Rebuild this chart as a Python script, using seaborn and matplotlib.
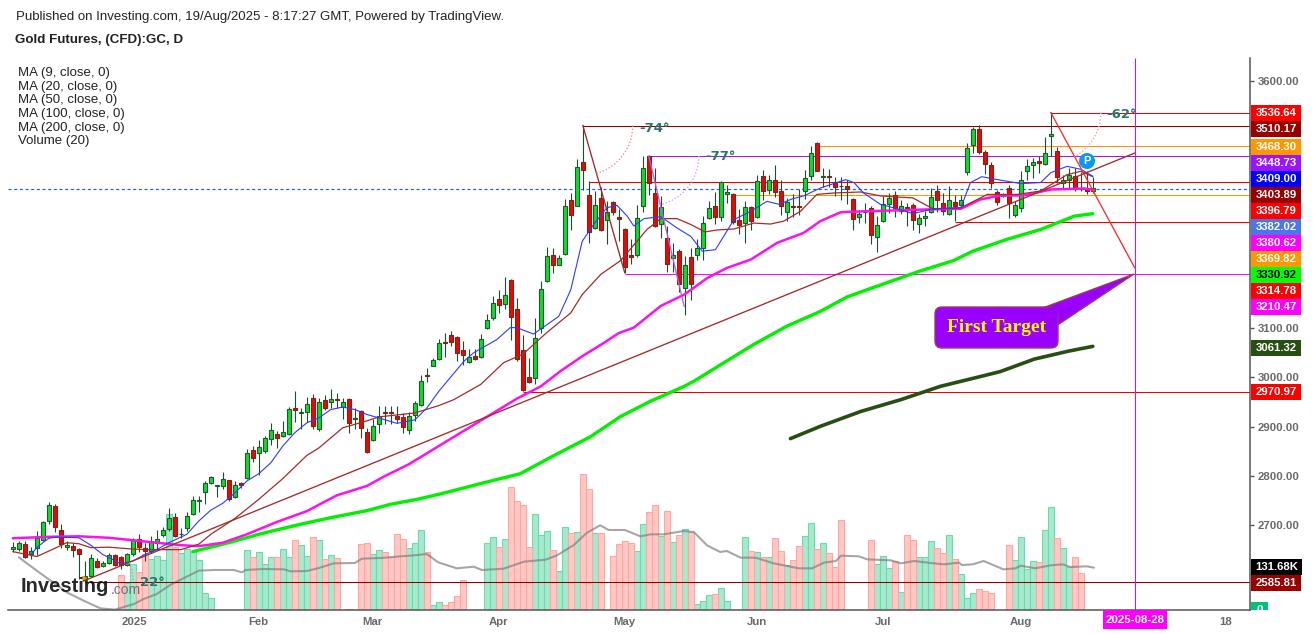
import numpy as np
import pandas as pd
import matplotlib
matplotlib.use("Agg")
import matplotlib.pyplot as plt
from matplotlib.patches import Arc, Circle, FancyBboxPatch, Polygon, Rectangle
import seaborn as sns

# daily candles
opens = [
    2653,2653,2662,2642,2655,2671,2710,2740,2691,2657,
    2658,2653,2589,2598,2628,2618,2624,2640,2636,2620,
    2643,2672,2655,2649,2665,2681,2693,2718,2682,2695,
    2724,2749,2768,2787,2780,2780,2792,2757,2786,2796,
    2853,2847,2851,2875,2886,2881,2885,2939,2928,2930,
    2959,2895,2955,2950,2957,2941,2957,2916,2932,2890,
    2874,2905,2930,2930,2921,2920,2894,2924,2945,3004,
    3024,3038,3071,3086,3082,3056,3031,3043,3042,3100,
    3121,3159,3149,3198,3139,3056,3000,2999,3100,3195,
    3249,3228,3250,3360,3347,3437,3370,3303,3364,3320,
    3356,3326,3301,3249,3248,3347,3449,3374,3311,3283,
    3243,3257,3181,3245,3249,3263,3324,3348,3326,3372,
    3372,3320,3313,3346,3326,3408,3380,3401,3378,3336,
    3348,3347,3378,3408,3476,3407,3409,3394,3389,3388,
    3362,3326,3335,3344,3284,3318,3351,3370,3338,3346,
    3350,3311,3324,3336,3378,3354,3331,3356,3349,3417,
    3472,3504,3457,3431,3376,3367,3384,3329,3344,3419,
    3430,3438,3432,3489,3460,3395,3400,3408,3384,3384,3378,
]
highs = [
    2666,2669,2669,2657,2689,2709,2747,2743,2703,2669,
    2664,2655,2627,2643,2635,2628,2645,2642,2639,2645,
    2675,2683,2665,2679,2690,2697,2736,2726,2694,2727,
    2760,2760,2790,2801,2783,2809,2793,2790,2788,2855,
    2861,2873,2882,2908,2891,2912,2941,2972,2939,2960,
    2966,2959,2964,2976,2968,2959,2959,2939,2935,2898,
    2915,2942,2943,2943,2942,2928,2930,2952,3004,3020,
    3040,3077,3091,3095,3085,3074,3057,3057,3088,3128,
    3165,3178,3204,3199,3161,3087,3040,3121,3195,3265,
    3263,3249,3361,3374,3443,3512,3398,3378,3386,3357,
    3357,3341,3303,3280,3349,3449,3450,3425,3368,3307,
    3273,3261,3246,3263,3280,3328,3357,3376,3398,3391,
    3373,3341,3357,3347,3411,3420,3411,3430,3401,3364,
    3371,3382,3420,3470,3478,3425,3422,3407,3407,3401,
    3364,3339,3354,3347,3328,3368,3373,3378,3359,3354,
    3354,3332,3337,3384,3390,3374,3389,3369,3370,3476,
    3508,3511,3462,3437,3381,3373,3391,3357,3418,3442,
    3445,3449,3487,3538,3468,3411,3425,3425,3416,3418,3407,
]
lows = [
    2646,2648,2635,2631,2640,2669,2703,2687,2654,2650,
    2637,2591,2588,2597,2614,2616,2622,2618,2611,2618,
    2638,2647,2628,2645,2651,2677,2689,2676,2674,2689,
    2722,2728,2743,2785,2758,2773,2749,2755,2776,2795,
    2828,2803,2846,2864,2857,2879,2884,2909,2895,2909,
    2895,2891,2935,2939,2939,2916,2888,2895,2878,2847,
    2871,2888,2905,2905,2908,2888,2885,2912,2943,2990,
    3023,3036,3042,3063,3033,3026,3030,3035,3040,3099,
    3116,3131,3139,3076,3034,2972,2989,2986,3090,3193,
    3211,3227,3249,3298,3347,3381,3273,3301,3297,3270,
    3330,3276,3212,3231,3245,3335,3369,3305,3282,3213,
    3213,3173,3126,3158,3239,3238,3322,3312,3317,3354,
    3312,3290,3273,3299,3323,3359,3371,3365,3330,3317,
    3326,3330,3362,3401,3418,3387,3387,3368,3359,3351,
    3299,3313,3313,3270,3254,3315,3334,3326,3332,3307,
    3299,3292,3307,3334,3335,3330,3330,3318,3342,3411,
    3455,3454,3413,3385,3349,3366,3324,3326,3335,3401,
    3405,3415,3431,3449,3395,3382,3385,3378,3378,3371,3373,
]
closes = [
    2657,2665,2637,2649,2675,2707,2742,2697,2662,2660,
    2651,2643,2597,2635,2616,2624,2641,2620,2619,2642,
    2670,2657,2649,2666,2673,2691,2716,2679,2683,2720,
    2752,2751,2787,2799,2782,2795,2754,2782,2782,2847,
    2837,2859,2877,2893,2877,2890,2937,2934,2930,2947,
    2901,2951,2939,2957,2954,2951,2908,2918,2897,2849,
    2902,2922,2928,2928,2916,2899,2922,2949,2993,3003,
    3036,3070,3070,3072,3050,3045,3042,3037,3078,3117,
    3151,3147,3168,3122,3037,2974,2990,3080,3180,3247,
    3228,3243,3348,3329,3427,3420,3295,3350,3299,3336,
    3335,3322,3224,3244,3324,3425,3395,3307,3346,3230,
    3249,3190,3228,3190,3263,3313,3344,3326,3397,3376,
    3316,3309,3346,3317,3398,3378,3401,3376,3348,3356,
    3345,3345,3404,3455,3419,3409,3407,3386,3388,3382,
    3322,3331,3336,3288,3309,3351,3363,3344,3347,3344,
    3319,3324,3327,3366,3359,3338,3360,3347,3360,3465,
    3504,3457,3433,3394,3355,3370,3353,3350,3401,3428,
    3437,3435,3455,3494,3406,3400,3411,3385,3382,3378,3385,
]
# volume in thousands, 0 where the picture has no bar
volumes = [
    0,0,0,0,0,0,0,0,0,0,
    0,0,0,0,0,0,0,0,105,81,
    138,115,168,153,161,150,288,188,171,183,
    173,150,51,36,0,0,0,0,0,180,
    159,174,138,159,159,183,159,210,195,162,
    219,210,153,165,156,0,3,0,198,201,
    168,180,174,159,228,213,186,201,240,175,
    16,24,16,24,42,90,0,0,0,200,
    218,188,212,368,326,314,188,287,224,236,
    179,116,248,230,233,407,362,230,230,0,
    161,197,206,200,176,257,293,314,221,296,
    203,224,242,235,17,26,44,47,65,26,
    0,0,218,176,173,158,158,215,176,134,
    149,191,221,260,182,200,170,128,269,0,
    0,0,0,209,137,161,125,146,53,224,
    209,158,158,206,185,170,224,152,107,35,
    50,62,56,50,0,0,194,149,218,122,
    146,143,239,308,215,185,128,158,110,0,0,
]

# moving averages, read at points along each line
ma9_x = [3,4,5,6,7,9,11,13,15,16,18,20,22,24,26,29,31,33,35,37,39,41,43,45,47,49,51,53,55,57,59,61,64,67,69,71,
         75.2,76.8,80.7,82.9,84,86.8,91,93,94.9,96.8,99,100.7,102.4,103.5,105.2,108,110.7,113,114.9,117.1,
         120.2,123,125.7,127.7,129.9,131.8,134.6,136.8,138.8,140.2,141.8,144.6,147.4,150,153.5,158,159.6,161.5,
         164.6,168,171.3,173,175.7,178,180]
ma9_y = [2641,2655,2665,2674,2676,2676,2675,2660,2641,2635,2622,2628,2641,2651,2665,2682,2709,2731,2745,2766,2790,
         2805,2827,2861,2888,2908,2918,2935,2940,2935,2925,2918,2907,2914,2938,2972,
         3033,3050,3077,3101,3101,3088,3124,3178,3276,3310,3344,3349,3327,3307,3322,3326,3303,3286,3256,3259,
         3320,3337,3357,3351,3362,3368,3384,3393,3401,3395,3374,3351,3342,3332,3342,3344,3395,3407,
         3400,3393,3395,3415,3428,3422,3408]
ma20_x = [0,4,6,9,11,13,16,19,22,28,31,33,37,41,45,49,51,55,59,61,67,71,73.5,78,81.8,85,88.9,93,94.9,98,101.3,
          105.7,108,110.7,113,115.4,117.3,120.2,123.5,126.3,128.5,131.3,134,136.8,141.3,144.6,150,153.5,158,
          162.4,167.4,171.3,175.7,178,180]
ma20_y = [2647,2637,2648,2665,2663,2655,2656,2653,2651,2651,2662,2682,2714,2753,2795,2842,2857,2898,2912,2920,
          2928,2943,2955,2986,3030,3047,3090,3131,3168,3209,3237,
          3300,3322,3322,3310,3295,3299,3301,3313,3311,3317,3337,3371,3374,3376,3368,3364,3341,3344,
          3371,3371,3378,3411,3418,3407]
ma50_x = [0,6,11,16,20,24,28,31,35,39,44,49,54,59,62,66,71,84,88,91.3,94.9,98.5,101,103.5,108,111.9,115.8,119,
          123,127.4,131.8,134.6,138,142.4,148,153.5,158,161.3,164.6,168.5,173,178.5,180]
ma50_y = [2674,2677,2678,2675,2670,2665,2660,2658,2665,2682,2707,2729,2761,2780,2800,2824,2861,2957,2982,3013,
          3043,3070,3090,3101,3145,3168,3202,3222,3239,3273,3293,3317,3335,3337,3339,3341,3342,3361,3369,3369,
          3381,3383,3381]
ma100_x = [30,36,41,44,48.5,53.5,59,63,67.4,71.3,78,84.6,89.6,96.3,101.3,106.3,111.9,113.6,118,123.5,129,134.6,
           139,142.4,151,156.8,160,165.7,171.3,176.9,180]
ma100_y = [2647,2665,2682,2691,2704,2717,2730,2743,2753,2764,2785,2805,2838,2880,2921,2952,2982,2993,3026,3067,
           3104,3134,3163,3178,3215,3237,3256,3280,3300,3327,3332]
ma200_x = [129.6,134.6,141.3,148,154.6,161.3,164.6,170.2,175.8,180]
ma200_y = [2876,2901,2931,2955,2982,3002,3012,3037,3053,3063]
vol_ma_x = [1,4,6.3,9,11.8,14.6,17,20.2,21.8,24,26.3,28.2,31,33.5,36.8,38.2,38.8,41.8,45.2,46.3,49,51,53.5,57,58.2,
            61.3,64.6,66.3,69,70.9,74,76.8,78.2,81.8,85.2,88.8,90.7,93.5,95.7,97.9,99.3,102,104.6,106.3,108.5,111.8,
            113.5,115.7,117.9,119,121.3,123.8,126.8,131,133.2,135.2,137.2,138,141,142.4,146.3,148,150.2,153,155.2,
            157.7,158.2,160,161.8,165.1,167.1,168,170.4,173,175,176.3,179,180.2]
vol_ma_y = [158,118,88,53,28,5,1,18,33,48,76,93,118,120,120,113,120,123,122,116,117,126,140,141,154,
            156,161,163,168,143,125,130,120,124,145,151,164,195,232,254,240,240,221,227,227,237,
            234,194,174,177,157,157,140,125,125,142,147,163,161,152,149,140,147,141,137,
            142,135,137,147,122,125,133,125,134,137,129,131,127]

# levels and sloped lines drawn on the chart
level_prices = [3536.64,3510.17,3468.30,3448.73,3396.79,3369.82,3314.78,3210.47,2970.97,2585.81]
level_starts = [173,95,134,106,96,120,157,102,85,12]
level_colors = ['#f00000','#8b0000','#ff9800','#9c1fd6','#f00000','#ff9800','#f00000','#f010f0','#f00000','#8b0000']
last_price = 3383
target_day = 187
slope_x = [[95,102],[106,111.9],[173,187],[11.7,187]]
slope_y = [[3511,3212],[3449,3144],[3537,3222],[2587,3455]]
slope_colors = ['#9c2a2a','#b060e0','#f03030','#a52a2a']
arc_x = [95,106,173,11.7]
arc_y = [3511,3449,3537,2587]
arc_deg = [-74,-77,-62,22]
arc_colors = ['#f09090','#d8a0ff','#ffa0a0','#d09a9a']

# right hand price tags
tag_texts = ['3536.64','3510.17','3468.30','3448.73','3409.00','3403.89','3396.79','3382.02','3380.62','3369.82',
             '3330.92','3314.78','3210.47','3061.32','2970.97','2585.81']
tag_y = [113,129,147,163,179,195,211,227,243,259,275,291,307,348,392,583]
tag_fill = ['#ff0000','#990000','#ff9800','#9c14ff','#0000ff','#990000','#ff0000','#4a78e8','#ff00ff','#ff9800',
            '#00ff00','#ff0000','#ff00ff','#274e13','#ff0000','#990000']
legend_lines = ['MA (9, close, 0)','MA (20, close, 0)','MA (50, close, 0)','MA (100, close, 0)','MA (200, close, 0)','Volume (20)']
legend_y = [73,87,100,114,128,141]

date_ticks = [20.2,41,60,81,102,124,145,168,202.2]
date_labels = ['2025','Feb','Mar','Apr','May','Jun','Jul','Aug','18']
price_ticks = [3600,3500,3400,3300,3200,3100,3000,2900,2800,2700,2600]
price_labels = ['3600.00','','','','','3100.00','3000.00','2900.00','2800.00','2700.00','']

sns.set_style("white")
plt.rcParams['font.family'] = ['Liberation Sans', 'DejaVu Sans']

W, H = 1316, 634
fig = plt.figure(figsize=(W / 100, H / 100), dpi=100)
ax = fig.add_axes([8 / W, 24 / H, 1242 / W, 552 / H])
ax_vol = ax.twinx()
ax.set_zorder(ax_vol.get_zorder() + 1)
ax.patch.set_visible(False)

# volume bars behind everything
days = np.arange(len(closes))
o = np.array(opens)
c = np.array(closes)
up = c >= o
vol_df = pd.DataFrame({'day': days, 'vol': volumes, 'side': np.where(up, 'up', 'down')})
vol_df = vol_df[vol_df['vol'] > 0]
sns.barplot(data=vol_df, x='day', y='vol', hue='side', hue_order=['up', 'down'],
            palette={'up': '#a6e9cd', 'down': '#ffc8c5'}, native_scale=True, dodge=False,
            width=1.0, saturation=1, errorbar=None, legend=False, ax=ax_vol)
for cont, edge in zip(ax_vol.containers, ['#6fd9ae', '#ffa6a0']):
    for b in cont:
        b.set_edgecolor(edge)
        b.set_linewidth(0.8)
sns.lineplot(x=vol_ma_x, y=vol_ma_y, color='#808080', alpha=0.7, linewidth=1.5, errorbar=None, ax=ax_vol)
ax_vol.set_ylim(0, 1656)
ax_vol.yaxis.set_visible(False)
ax_vol.set_xlabel('')
for s in ax_vol.spines.values():
    s.set_visible(False)

# levels
for price, start, col in zip(level_prices, level_starts, level_colors):
    ax.hlines(price, start, 206.2, color=col, linewidth=0.75, zorder=2)
ax.hlines(last_price, -0.8, 206.2, color='#1e5cff', linewidth=0.85, linestyles=(0, (2.6, 2.2)), zorder=2)
ax.vlines(target_day, 2528.6, 3647.6, color='#e010d0', linewidth=0.75, zorder=2)

# candles
wick_col = '#1c4d2e'
ax.vlines(days, lows, highs, color=wick_col, linewidth=0.8, zorder=3)
ax.bar(days[up], (c - o)[up], bottom=o[up], width=0.66, color='#10dc28', edgecolor='#1c5a2e', linewidth=0.8, zorder=3.1)
ax.bar(days[~up], (c - o)[~up], bottom=o[~up], width=0.66, color='#ee0606', edgecolor='#6e2a1a', linewidth=0.8, zorder=3.1)

# moving averages
sns.lineplot(x=ma200_x, y=ma200_y, color='#274e13', linewidth=2.6, errorbar=None, ax=ax, zorder=4)
sns.lineplot(x=ma100_x, y=ma100_y, color='#00f000', linewidth=2.4, errorbar=None, ax=ax, zorder=4)
sns.lineplot(x=ma50_x, y=ma50_y, color='#ff10ee', linewidth=1.8, errorbar=None, ax=ax, zorder=4)
sns.lineplot(x=ma20_x, y=ma20_y, color='#a52a2a', linewidth=0.9, errorbar=None, ax=ax, zorder=4)
sns.lineplot(x=ma9_x, y=ma9_y, color='#2a3cff', linewidth=0.8, errorbar=None, ax=ax, zorder=4)

# sloped lines
for xs, ys, col in zip(slope_x, slope_y, slope_colors):
    ax.plot(xs, ys, color=col, linewidth=0.95, zorder=4.5)

ax.set_xlim(-0.8, 206.2)
ax.set_ylim(2528.6, 3647.6)
ax.set_xticks(date_ticks)
ax.set_xticklabels(date_labels)
ax.set_yticks(price_ticks)
ax.set_yticklabels(price_labels)
ax.yaxis.tick_right()
ax.tick_params(axis='both', length=3, width=1, color='#555555', labelcolor='#6a6a6a', labelsize=8.2)
ax.tick_params(axis='y', pad=2.5)
ax.tick_params(axis='x', pad=2)
ax.set_xlabel('')
ax.set_ylabel('')
for lab in ax.get_xticklabels() + ax.get_yticklabels():
    lab.set_fontweight('bold')
for name in ['top', 'left']:
    ax.spines[name].set_visible(False)
for name in ['bottom', 'right']:
    ax.spines[name].set_color('#555555')
    ax.spines[name].set_linewidth(1.1)

# everything that sits on top of the chart, in pixels of the picture
ov = fig.add_axes([0, 0, 1, 1], zorder=10)
ov.set_xlim(0, W)
ov.set_ylim(H, 0)
ov.axis('off')
ov.patch.set_visible(False)

# dotted angle arcs, round in pixels so they go on the overlay
for ax0, ay0, deg, col in zip(arc_x, arc_y, arc_deg, arc_colors):
    dx, dy = ax.transData.transform((ax0, ay0))
    ov.add_patch(Arc((dx, H - dy), 100, 100, theta1=min(-deg, 0), theta2=max(-deg, 0),
                     color=col, linewidth=1.0, linestyle=(0, (1, 1.4))))

ov.text(16, 17, 'Published on Investing.com, 19/Aug/2025 - 8:17:27 GMT, Powered by TradingView.',
        fontsize=9.55, color='#222222', va='center')
ov.text(15, 40, 'Gold Futures, (CFD):GC, D', fontsize=9.6, fontweight='bold', color='#222222', va='center')
for line, y in zip(legend_lines, legend_y):
    ov.text(18, y, line, fontsize=9.5, color='#222222', va='center')

for text, y, fill in zip(tag_texts, tag_y, tag_fill):
    ov.add_patch(Rectangle((1251, y - 8), 50, 16, facecolor=fill, edgecolor='none'))
    ov.text(1276.5, y, text, fontsize=8.2, fontweight='bold', ha='center', va='center',
            color='black' if text == '3330.92' else 'white')
ov.add_patch(Rectangle((1251, 559), 51, 16, facecolor='black', edgecolor='none'))
ov.text(1276.5, 567, '131.68K', fontsize=8.2, fontweight='bold', color='white', ha='center', va='center')
zero_tag = Rectangle((1251, 602), 17, 8, facecolor='#00c176', edgecolor='none')
ov.add_patch(zero_tag)
zero_txt = ov.text(1259.5, 610, '0', fontsize=8.2, fontweight='bold', color='white', ha='center', va='center')
zero_txt.set_clip_path(zero_tag)
ov.add_patch(Rectangle((1103, 610), 64, 19, facecolor='#ff00ff', edgecolor='none'))
ov.text(1135, 620, '2025-08-28', fontsize=8.2, fontweight='bold', color='white', ha='center', va='center')

for text, x, y, size in [('-74°', 639, 128, 9.5), ('-77°', 705, 157, 9.5), ('-62°', 1106, 114, 9.5), ('22°', 140, 583, 9.5)]:
    ov.text(x, y, text, family='DejaVu Sans', fontsize=size, fontweight='bold', color='#26786c', va='center')

ov.add_patch(Circle((1087, 161), 8, facecolor='#0a98f0', edgecolor='none'))
ov.text(1087, 161, 'P', fontsize=8, fontweight='bold', color='white', ha='center', va='center')
ov.add_patch(Circle((83.5, 578), 2, facecolor='#f0a000', edgecolor='none'))

# First Target callout
face = '#9900ff'
ov.add_patch(Polygon([(1040, 309), (1134, 274), (1056, 326)], closed=True, facecolor=face, edgecolor='#9c3a5a', linewidth=1))
ov.add_patch(FancyBboxPatch((941, 313), 111, 29, boxstyle='round,pad=6,rounding_size=7',
                            facecolor=face, edgecolor='#9c3a5a', linewidth=1))
ov.add_patch(Polygon([(1042, 311), (1060, 304), (1056, 322), (1042, 325)], closed=True, facecolor=face, edgecolor='none'))
ov.text(996.5, 327, 'First Target', family='Liberation Serif', fontsize=14, fontweight='bold',
        color='#ffff00', ha='center', va='center')

# watermark
ov.text(21, 587, 'Investing', fontsize=14.5, fontweight='bold', color='#111111', alpha=0.9, va='center')
ov.text(111, 590, '.com', fontsize=10, color='#666666', alpha=0.9, va='center')

fig.savefig('out.png', dpi=100)
